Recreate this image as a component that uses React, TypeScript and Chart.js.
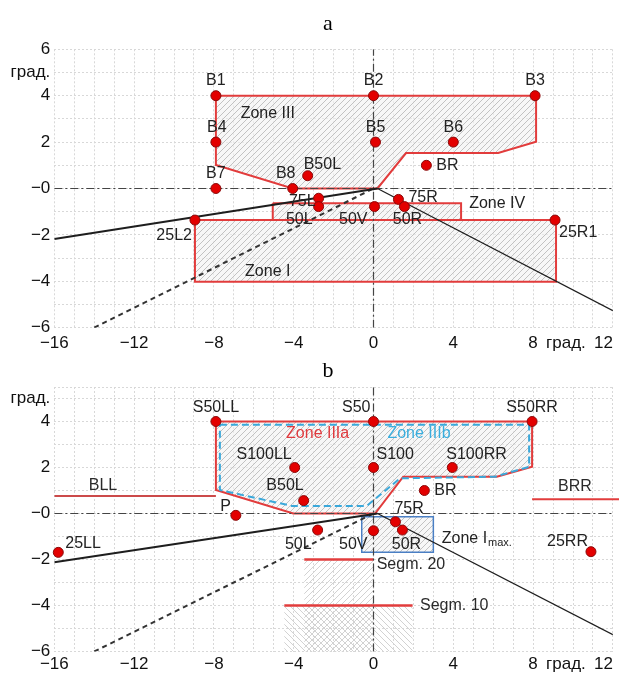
import React, { useEffect, useRef } from 'react';
import { Chart, registerables } from 'chart.js';
Chart.register(...registerables);

const SANS = '"Liberation Sans", Arial, Helvetica, sans-serif';
const SERIF = '"Liberation Serif", "Times New Roman", serif';

// ---------- axes ----------
const X_MIN = -16;
const X_MAX = 12;
const A_Y_MIN = -6;
const A_Y_MAX = 6;
const B_Y_MIN = -6;
const B_Y_MAX = 5.5;
const xTickValues = [-16, -12, -8, -4, 0, 4, 8, 10, 12];
const xTickTexts = ['\u221216', '\u221212', '\u22128', '\u22124', '0', '4', '8', 'град.   ', '12    '];
const yTickValues = [6, 5, 4, 2, 0, -2, -4, -6];
const yTickTexts = ['6', 'град.', '4', '2', '\u22120', '\u22122', '\u22124', '\u22126'];

// ---------- panel a ----------
const aPointNames = ['B1', 'B2', 'B3', 'B4', 'B5', 'B6', 'B7', 'B8', 'B50L', 'BR', '75L', '50L', '50V', '75R', '50R', '25L2', '25R1'];
const aPointX = [-7.9, 0, 8.1, -7.9, 0.1, 4.0, -7.9, -4.05, -3.3, 2.65, -2.75, -2.75, 0.05, 1.25, 1.55, -8.95, 9.1];
const aPointY = [4, 4, 4, 2, 2, 2, 0, 0, 0.55, 1.0, -0.42, -0.78, -0.78, -0.47, -0.78, -1.36, -1.36];

const zoneIII_X = [-7.9, 8.15, 8.15, 6.25, 1.63, 0.2, -4.05, -7.9];
const zoneIII_Y = [4, 4, 2.02, 1.53, 1.53, 0, 0, 1.01];
const zoneIV_X = [-5.05, 4.39, 4.39, -5.05];
const zoneIV_Y = [-0.64, -0.64, -1.36, -1.36];
const zoneI_X = [-8.95, 9.15, 9.15, -8.95];
const zoneI_Y = [-1.36, -1.36, -4.02, -4.02];

const cutLeftX = [-16, 0.2];
const cutLeftY = [-2.18, 0];
const cutRightX = [0.2, 12];
const cutRightY = [0, -5.27];
const dashedX = [-14, 0];
const dashedY = [-6, 0];

const aZoneTexts = ['Zone III', 'Zone IV', 'Zone I'];
const aZoneX = [-5.3, 6.2, -5.3];
const aZoneY = [3.25, -0.63, -3.59];

// ---------- panel b ----------
const bPointNames = ['S50LL', 'S50', 'S50RR', 'S100LL', 'S100', 'S100RR', 'BR', 'B50L', 'P', '25LL', '25RR', '50L', '50V', '75R', '50R'];
const bPointX = [-7.9, 0, 7.95, -3.95, 0, 3.95, 2.55, -3.5, -6.9, -15.8, 10.9, -2.8, 0, 1.1, 1.45];
const bPointY = [4, 4, 4, 2, 2, 2, 1.0, 0.56, -0.08, -1.69, -1.66, -0.72, -0.75, -0.36, -0.72];

const zoneIIIa_X = [-7.9, 7.95, 7.95, 6.18, 1.49, 0.08, -4.02, -7.9];
const zoneIIIa_Y = [4, 4, 2.03, 1.6, 1.6, 0, 0, 1.02];
const zoneIIIb_X = [-7.7, 7.8, 7.8, 6.09, 1.33, -0.34, -4.1, -7.7];
const zoneIIIb_Y = [3.86, 3.86, 2.03, 1.6, 1.53, 0.33, 0.33, 1.02];
const zoneImax_X = [-0.59, 3.0, 3.0, -0.59];
const zoneImax_Y = [-0.14, -0.14, -1.69, -1.69];
const bllX = [-16, -7.9];
const bllY = [0.76, 0.76];
const brrX = [7.95, 12.35];
const brrY = [0.62, 0.62];
const seg20X = [-3.47, 0];
const seg20Y = [-2, -2];
const seg10X = [-4.47, 1.96];
const seg10Y = [-4, -4];
const segAreaA_X = [-3.47, 0, 0, -3.47];
const segAreaA_Y = [-2, -2, -6, -6];
const segAreaB_X = [-4.47, 1.96, 1.96, -4.47];
const segAreaB_Y = [-4, -4, -6, -6];
const bCutLeftX = [-16, 0.2];
const bCutLeftY = [-2.12, 0];

const bZoneTexts = ['Zone IIIa', 'Zone IIIb', 'BLL', 'BRR', 'Segm. 20', 'Segm. 10'];
const bZoneX = [-2.8, 2.28, -13.56, 10.1, 0.16, 2.33];
const bZoneY = [3.49, 3.49, 1.2, 1.17, -2.24, -4.0];
const imaxLabelX = 3.42;
const imaxLabelY = -1.08;

// ---------- styles (pixel offsets / alignment of labels) ----------
type Off = [number, number, CanvasTextAlign];
const aLabelStyle: Off[] = [
  [0, -15, 'center'], [0, -15, 'center'], [0, -15, 'center'], [1, -15, 'center'], [0, -15, 'center'],
  [0, -15, 'center'], [0, -15, 'center'], [-7, -15, 'center'], [-4, -11, 'left'], [10, 0, 'left'],
  [-3, 3, 'right'], [-6, 13, 'right'], [-7, 13, 'right'], [10, -2, 'left'], [3, 13, 'center'],
  [-3, 16, 'right'], [4, 13, 'left'],
];
const bLabelStyle: Off[] = [
  [0, -14, 'center'], [-3, -14, 'right'], [0, -14, 'center'], [-3, -13, 'right'], [3, -13, 'left'],
  [-6, -13, 'left'], [10, 0, 'left'], [0, -15, 'right'], [-5, -9, 'right'], [7, -9, 'left'],
  [-3, -10, 'right'], [-6, 15, 'right'], [-6, 14, 'right'], [-1, -13, 'left'], [4, 15, 'center'],
];
const bZoneAlign: CanvasTextAlign[] = ['center', 'center', 'center', 'center', 'left', 'left'];
const bZoneColor = ['#e03a3e', '#3aaede', '#2a2a2a', '#2a2a2a', '#2a2a2a', '#2a2a2a'];

const RED = '#e23c3c';
const BLUE_D = '#3aa8da';
const BLUE_R = '#4a7fc4';
const BLACK = '#1e1e1e';
const DASHDOT = [8, 3, 2, 3];
const GRID = '#d8d8d8';

// ---------- helpers ----------
const pts = (xs: number[], ys: number[]) => xs.map((x, i) => ({ x, y: ys[i] }));
const closed = (xs: number[], ys: number[]) => {
  const p = pts(xs, ys);
  p.push({ ...p[0] });
  return p;
};
const fmtTick = (v: number, vals: number[], texts: string[]) => {
  const i = vals.findIndex((t) => Math.abs(t - v) < 1e-9);
  return i >= 0 ? texts[i] : '';
};

function hatch(dir: number, line: string, bg: string): CanvasPattern {
  const s = 6;
  const c = document.createElement('canvas');
  c.width = s;
  c.height = s;
  const g = c.getContext('2d')!;
  g.fillStyle = bg;
  g.fillRect(0, 0, s, s);
  g.strokeStyle = line;
  g.lineWidth = 1;
  g.beginPath();
  if (dir > 0) {
    g.moveTo(0, s); g.lineTo(s, 0);
    g.moveTo(-1, 1); g.lineTo(1, -1);
    g.moveTo(s - 1, s + 1); g.lineTo(s + 1, s - 1);
  } else {
    g.moveTo(0, 0); g.lineTo(s, s);
    g.moveTo(-1, s - 1); g.lineTo(1, s + 1);
    g.moveTo(s - 1, -1); g.lineTo(s + 1, 1);
  }
  g.stroke();
  return g.createPattern(c, 'repeat')!;
}

function lineDs(data: any[], color: string, width: number, dash: number[] = [], extra: any = {}) {
  return {
    type: 'line',
    data,
    borderColor: color,
    borderWidth: width,
    borderDash: dash,
    pointRadius: 0,
    fill: false,
    tension: 0,
    ...extra,
  };
}

function pointDs(xs: number[], ys: number[]) {
  return {
    type: 'line',
    data: pts(xs, ys),
    showLine: false,
    pointRadius: 5,
    pointBackgroundColor: '#e30000',
    pointBorderColor: '#8a0a0a',
    pointBorderWidth: 1,
    clip: false,
  };
}

type TextItem = { text: string; x: number; y: number; dx: number; dy: number; align: CanvasTextAlign; color: string; font: string };

function textPlugin(items: TextItem[], title: string, tx: number, ty: number, extra?: (c: any) => void) {
  return {
    id: 'texts',
    afterDatasetsDraw(chart: any) {
      const { ctx, scales } = chart;
      const sx = scales.x;
      const sy = scales.y;
      ctx.save();
      ctx.textBaseline = 'middle';
      for (const it of items) {
        ctx.font = it.font;
        ctx.fillStyle = it.color;
        ctx.textAlign = it.align;
        ctx.fillText(it.text, sx.getPixelForValue(it.x) + it.dx, sy.getPixelForValue(it.y) + it.dy);
      }
      if (extra) extra(chart);
      ctx.font = `22px ${SERIF}`;
      ctx.fillStyle = '#000';
      ctx.textAlign = 'center';
      ctx.textBaseline = 'alphabetic';
      ctx.fillText(title, tx, ty);
      ctx.restore();
    },
  };
}

function scalesCfg(yMin: number, yMax: number, xAxisHeight: number, xPad: number) {
  return {
    x: {
      type: 'linear',
      min: X_MIN,
      max: X_MAX,
      afterBuildTicks: (s: any) => {
        const t = [];
        for (let v = X_MIN; v <= X_MAX; v++) t.push({ value: v });
        s.ticks = t;
      },
      afterFit: (s: any) => {
        s.height = xAxisHeight;
        s.paddingLeft = 0;
        s.paddingRight = 0;
      },
      ticks: {
        autoSkip: false,
        maxRotation: 0,
        minRotation: 0,
        padding: xPad,
        color: '#111',
        font: { family: SANS, size: 17 },
        callback: (v: number) => fmtTick(v, xTickValues, xTickTexts),
      },
      grid: { color: GRID, drawTicks: false, lineWidth: 1 },
      border: { display: false, dash: [2, 2] },
    },
    y: {
      type: 'linear',
      min: yMin,
      max: yMax,
      afterBuildTicks: (s: any) => {
        const t = [];
        for (let v = yMin; v <= yMax; v++) t.push({ value: v });
        if (t[t.length - 1].value !== yMax) t.push({ value: yMax });
        s.ticks = t;
      },
      afterFit: (s: any) => {
        s.width = 54.3;
        s.paddingTop = 0;
        s.paddingBottom = 0;
      },
      ticks: {
        autoSkip: false,
        padding: 4,
        color: '#111',
        font: { family: SANS, size: 17 },
        callback: (v: number) => fmtTick(v, yTickValues, yTickTexts),
      },
      grid: { color: GRID, drawTicks: false, lineWidth: 1 },
      border: { display: false, dash: [2, 2] },
    },
  };
}

const LABEL_FONT = `16px ${SANS}`;
const LABEL_COLOR = '#222';

function buildA(): any {
  const hatchFill = hatch(1, '#c2c2c2', 'rgba(242,242,242,0.6)');
  const items: TextItem[] = aPointNames.map((n, i) => ({
    text: n, x: aPointX[i], y: aPointY[i], dx: aLabelStyle[i][0], dy: aLabelStyle[i][1], align: aLabelStyle[i][2],
    color: LABEL_COLOR, font: LABEL_FONT,
  }));
  aZoneTexts.forEach((t, i) => items.push({ text: t, x: aZoneX[i], y: aZoneY[i], dx: 0, dy: 0, align: 'center', color: LABEL_COLOR, font: LABEL_FONT }));
  return {
    type: 'line',
    data: {
      datasets: [
        pointDs(aPointX, aPointY),
        lineDs(pts(cutLeftX, cutLeftY), BLACK, 2),
        lineDs(pts(cutRightX, cutRightY), BLACK, 1.3),
        lineDs(pts(dashedX, dashedY), '#333', 2, [5, 4]),
        lineDs([{ x: 0, y: A_Y_MIN }, { x: 0, y: A_Y_MAX }], '#444', 1.2, DASHDOT),
        lineDs([{ x: X_MIN, y: 0 }, { x: X_MAX, y: 0 }], '#444', 1.2, DASHDOT),
        lineDs(closed(zoneIII_X, zoneIII_Y), RED, 2, [], { fill: 'shape', backgroundColor: hatchFill }),
        lineDs(closed(zoneIV_X, zoneIV_Y), RED, 2, [], { fill: 'shape', backgroundColor: hatchFill }),
        lineDs(closed(zoneI_X, zoneI_Y), RED, 2, [], { fill: 'shape', backgroundColor: hatchFill }),
      ],
    },
    options: {
      animation: false,
      responsive: false,
      events: [],
      layout: { padding: { top: 49.3, right: 6.1, left: 0, bottom: 0 } },
      plugins: { legend: { display: false }, tooltip: { enabled: false }, title: { display: false } },
      scales: scalesCfg(A_Y_MIN, A_Y_MAX, 358 - 327.7, 5),
    },
    plugins: [textPlugin(items, 'a', 328, 30)],
  };
}

function buildB(): any {
  const hatchFill = hatch(1, '#c2c2c2', 'rgba(242,242,242,0.6)');
  const hatchA = hatch(1, '#d2d2d2', 'rgba(0,0,0,0)');
  const hatchB = hatch(-1, '#d2d2d2', 'rgba(0,0,0,0)');
  const items: TextItem[] = bPointNames.map((n, i) => ({
    text: n, x: bPointX[i], y: bPointY[i], dx: bLabelStyle[i][0], dy: bLabelStyle[i][1], align: bLabelStyle[i][2],
    color: LABEL_COLOR, font: LABEL_FONT,
  }));
  bZoneTexts.forEach((t, i) => items.push({ text: t, x: bZoneX[i], y: bZoneY[i], dx: 0, dy: 0, align: bZoneAlign[i], color: bZoneColor[i], font: LABEL_FONT }));
  const imax = (chart: any) => {
    const { ctx, scales } = chart;
    const px = scales.x.getPixelForValue(imaxLabelX);
    const py = scales.y.getPixelForValue(imaxLabelY);
    ctx.font = LABEL_FONT;
    ctx.fillStyle = LABEL_COLOR;
    ctx.textAlign = 'left';
    ctx.textBaseline = 'middle';
    ctx.fillText('Zone I', px, py);
    const w = ctx.measureText('Zone I').width;
    ctx.font = `11px ${SANS}`;
    ctx.fillText('max.', px + w + 1, py + 5);
  };
  return {
    type: 'line',
    data: {
      datasets: [
        pointDs(bPointX, bPointY),
        lineDs(pts(bCutLeftX, bCutLeftY), BLACK, 2),
        lineDs(pts(cutRightX, cutRightY), BLACK, 1.3),
        lineDs(pts(dashedX, dashedY), '#333', 2, [5, 4]),
        lineDs([{ x: 0, y: B_Y_MIN }, { x: 0, y: B_Y_MAX }], '#444', 1.2, DASHDOT),
        lineDs([{ x: X_MIN, y: 0 }, { x: X_MAX, y: 0 }], '#444', 1.2, DASHDOT),
        lineDs(pts(bllX, bllY), '#cc4a4a', 2),
        lineDs(pts(brrX, brrY), RED, 2, [], { clip: false }),
        lineDs(pts(seg20X, seg20Y), RED, 2.5),
        lineDs(pts(seg10X, seg10Y), RED, 2.5),
        lineDs(closed(zoneIIIb_X, zoneIIIb_Y), BLUE_D, 2, [7, 4]),
        lineDs(closed(zoneImax_X, zoneImax_Y), BLUE_R, 1.5, [], { fill: 'shape', backgroundColor: hatchFill }),
        lineDs(closed(zoneIIIa_X, zoneIIIa_Y), RED, 2, [], { fill: 'shape', backgroundColor: hatchFill }),
        lineDs(closed(segAreaA_X, segAreaA_Y), 'rgba(0,0,0,0)', 0, [], { fill: 'shape', backgroundColor: hatchA }),
        lineDs(closed(segAreaB_X, segAreaB_Y), 'rgba(0,0,0,0)', 0, [], { fill: 'shape', backgroundColor: hatchB }),
      ],
    },
    options: {
      animation: false,
      responsive: false,
      events: [],
      layout: { padding: { top: 29, right: 6.1, left: 0, bottom: 0 } },
      plugins: { legend: { display: false }, tooltip: { enabled: false }, title: { display: false } },
      scales: scalesCfg(B_Y_MIN, B_Y_MAX, 317 - 293.5, 3),
    },
    plugins: [textPlugin(items, 'b', 328, 19, imax)],
  };
}

export default function App() {
  const refA = useRef<HTMLCanvasElement>(null);
  const refB = useRef<HTMLCanvasElement>(null);
  useEffect(() => {
    const a = new Chart(refA.current!, buildA());
    const b = new Chart(refB.current!, buildB());
    return () => {
      a.destroy();
      b.destroy();
    };
  }, []);
  return (
    <div style={{ position: 'absolute', left: 0, top: 0, width: 619, height: 675, background: '#fff', overflow: 'hidden' }}>
      <canvas ref={refA} width={619} height={358} style={{ position: 'absolute', left: 0, top: 0, width: 619, height: 358 }} />
      <canvas ref={refB} width={619} height={317} style={{ position: 'absolute', left: 0, top: 358, width: 619, height: 317 }} />
    </div>
  );
}
